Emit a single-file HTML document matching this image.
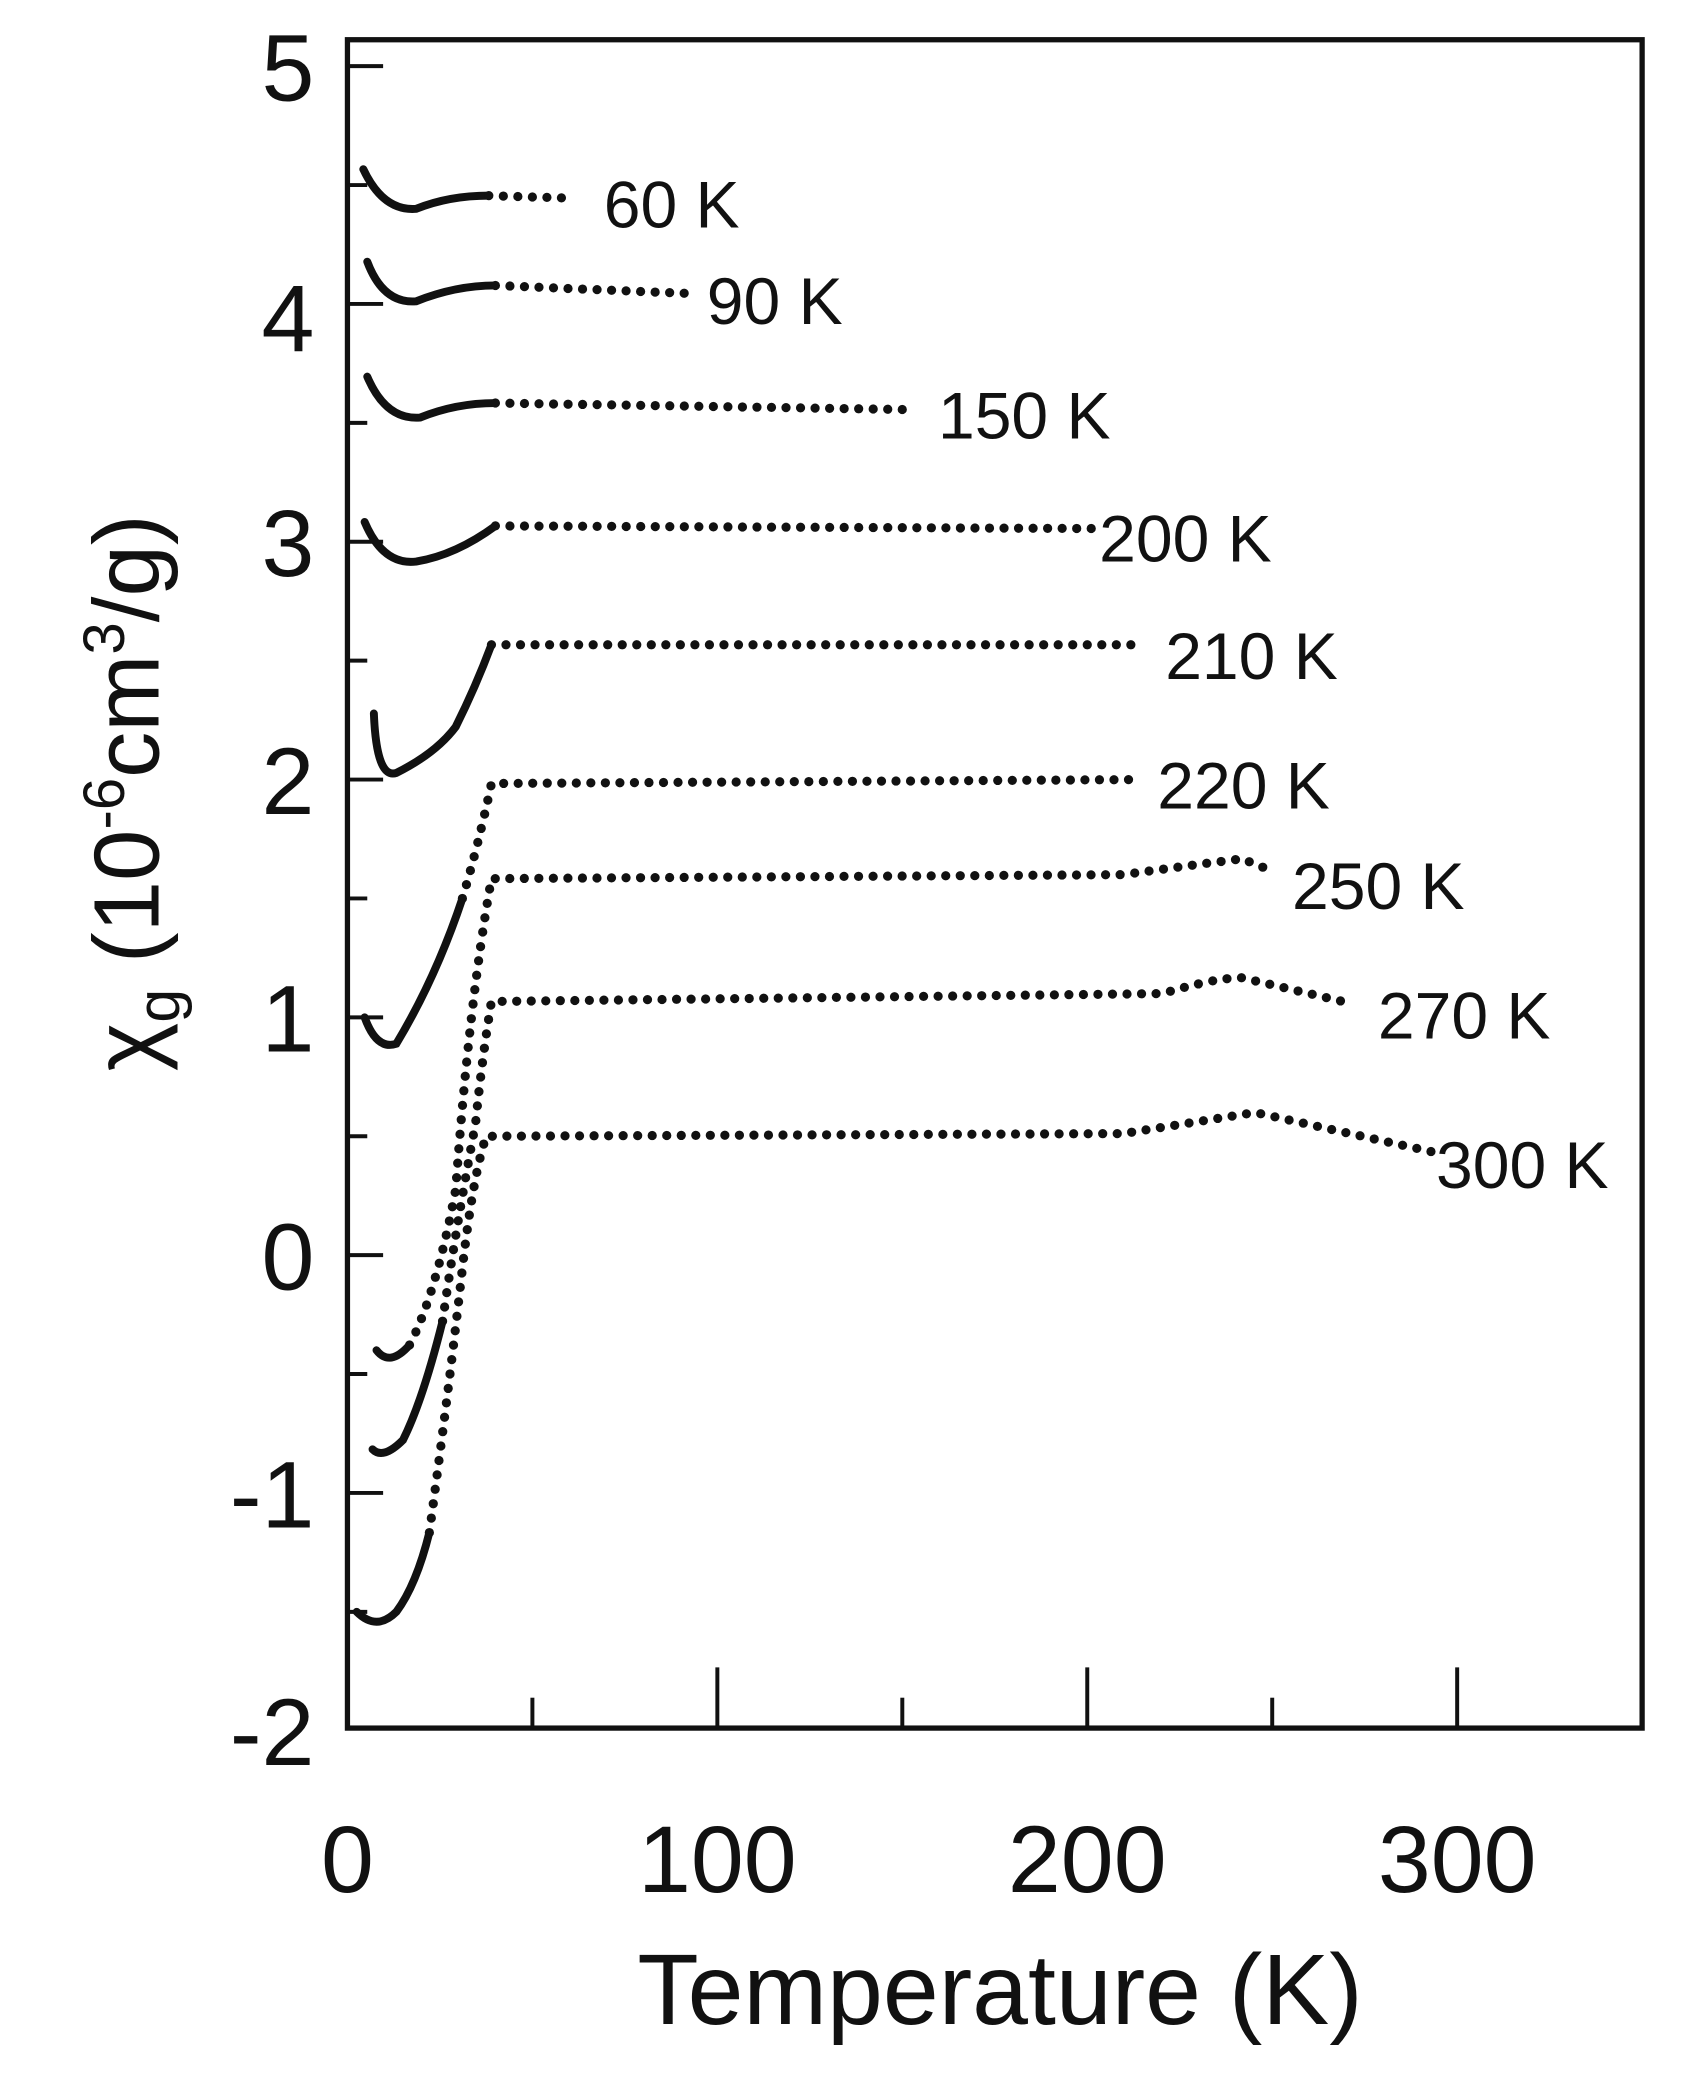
<!DOCTYPE html>
<html><head><meta charset="utf-8"><style>html,body{margin:0;padding:0;background:#fff}svg{display:block}</style></head>
<body>
<svg width="1691" height="2073" viewBox="0 0 1280 1569" xmlns="http://www.w3.org/2000/svg" font-family="Liberation Sans, Arial, sans-serif">
<rect x="263" y="30" width="980" height="1278" fill="none" stroke="#111" stroke-width="4"/>
<g stroke="#111" stroke-width="3">
<line x1="263" y1="50" x2="290" y2="50"/><line x1="263" y1="140" x2="278" y2="140"/>
<line x1="263" y1="230" x2="290" y2="230"/><line x1="263" y1="320" x2="278" y2="320"/>
<line x1="263" y1="410" x2="290" y2="410"/><line x1="263" y1="500" x2="278" y2="500"/>
<line x1="263" y1="590" x2="290" y2="590"/><line x1="263" y1="680" x2="278" y2="680"/>
<line x1="263" y1="770" x2="290" y2="770"/><line x1="263" y1="860" x2="278" y2="860"/>
<line x1="263" y1="950" x2="290" y2="950"/><line x1="263" y1="1040" x2="278" y2="1040"/>
<line x1="263" y1="1130" x2="290" y2="1130"/><line x1="263" y1="1220" x2="278" y2="1220"/>
<line x1="403" y1="1308" x2="403" y2="1285"/><line x1="543" y1="1308" x2="543" y2="1262"/>
<line x1="683" y1="1308" x2="683" y2="1285"/><line x1="823" y1="1308" x2="823" y2="1262"/>
<line x1="963" y1="1308" x2="963" y2="1285"/><line x1="1103" y1="1308" x2="1103" y2="1262"/>
</g>
<g font-size="72" fill="#111" text-anchor="end">
<text x="238" y="76">5</text><text x="238" y="266">4</text><text x="238" y="436">3</text>
<text x="238" y="616">2</text><text x="238" y="796">1</text><text x="238" y="976">0</text>
<text x="238" y="1156">-1</text><text x="238" y="1336">-2</text>
</g>
<g font-size="72" fill="#111" text-anchor="middle">
<text x="263" y="1432">0</text><text x="543" y="1432">100</text><text x="823" y="1432">200</text><text x="1103" y="1432">300</text>
</g>
<text x="757" y="1532" font-size="76" text-anchor="middle" fill="#111">Temperature (K)</text>
<text transform="translate(120,600) rotate(-90)" font-size="70" text-anchor="middle" fill="#111">χ<tspan font-size="46" dy="16">g</tspan><tspan dy="-16"> (10</tspan><tspan font-size="44" dy="-26">-6</tspan><tspan dy="26">cm</tspan><tspan font-size="44" dy="-26">3</tspan><tspan dy="26">/g)</tspan></text>
<g fill="none" stroke="#111" stroke-width="6" stroke-linecap="round">
<path d="M275 128 Q290 160 315 158 Q340 148 370 148"/>
<path d="M278 198 Q290 230 315 228 Q345 216 375 216"/>
<path d="M278 285 Q292 318 318 316 Q345 305 375 305"/>
<path d="M276 395 Q290 428 315 425 Q345 420 375 398"/>
<path d="M283 540 Q285 590 300 585 Q330 570 345 550 Q360 520 372 488"/>
<path d="M276 770 Q285 795 300 790 Q330 740 350 680"/>
<path d="M285 1022 Q295 1035 310 1018"/>
<path d="M282 1097 Q290 1105 305 1090 Q320 1060 335 1000"/>
<path d="M270 1220 Q285 1235 300 1220 Q315 1200 325 1160"/>
</g>
<g fill="none" stroke="#111" stroke-width="7" stroke-linecap="round" stroke-dasharray="0 11">
<path d="M370 148 L435 150"/>
<path d="M375 216 L520 222"/>
<path d="M375 305 L690 310"/>
<path d="M375 398 L830 400"/>
<path d="M372 488 L860 488"/>
<path d="M350 680 Q362 640 372 593 L865 590"/>
<path d="M310 1018 Q330 980 345 900 Q355 760 372 665 L850 662 Q900 655 940 650 L965 660"/>
<path d="M335 1000 Q345 930 360 850 Q365 800 372 758 L880 752 Q920 740 940 740 L1025 760"/>
<path d="M325 1160 Q340 1050 350 960 Q358 890 368 860 L850 858 Q900 850 950 842 L1085 872"/>
</g>
<g font-size="50" fill="#111">
<text x="457" y="172">60 K</text><text x="535" y="245">90 K</text><text x="710" y="332">150 K</text>
<text x="832" y="425">200 K</text><text x="882" y="514">210 K</text><text x="876" y="612">220 K</text>
<text x="978" y="688">250 K</text><text x="1043" y="786">270 K</text><text x="1087" y="899">300 K</text>
</g>
</svg>
</body></html>
